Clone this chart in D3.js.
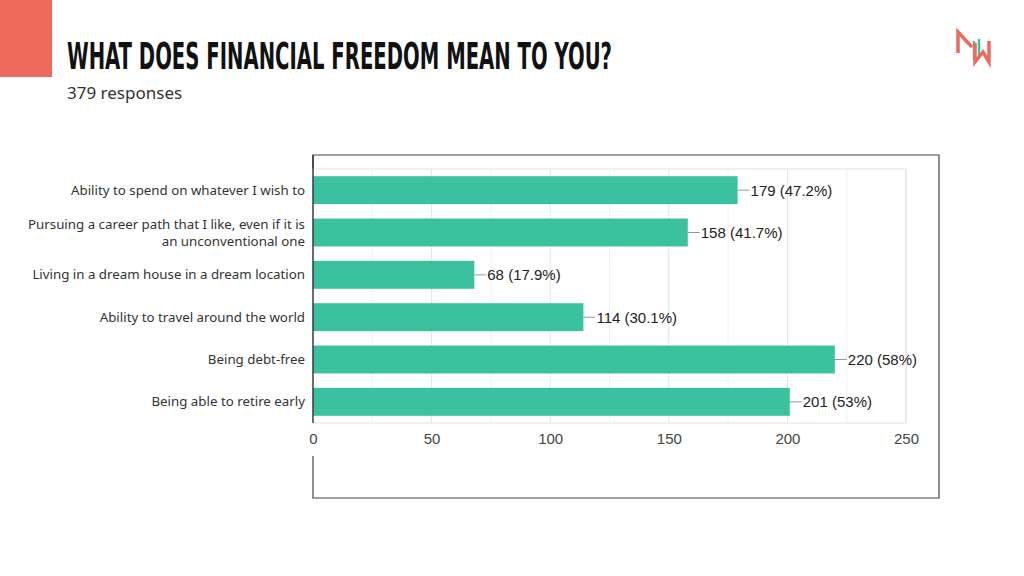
<!DOCTYPE html>
<html>
<head>
<meta charset="utf-8">
<script src="https://cdn.jsdelivr.net/npm/d3@7/dist/d3.min.js"></script>
<style>
  html, body { margin: 0; padding: 0; background: #fff; }
  svg { display: block; }
</style>
</head>
<body>
<svg id="chart" width="1024" height="576"></svg>
<script>
const title = "WHAT DOES FINANCIAL FREEDOM MEAN TO YOU?";
const subtitle = "379 responses";
const categories = [
  ["Ability to spend on whatever I wish to"],
  ["Pursuing a career path that I like, even if it is", "an unconventional one"],
  ["Living in a dream house in a dream location"],
  ["Ability to travel around the world"],
  ["Being debt-free"],
  ["Being able to retire early"]
];
const values = [179, 158, 68, 114, 220, 201];
const percents = ["47.2%", "41.7%", "17.9%", "30.1%", "58%", "53%"];
const tickValues = [0, 50, 100, 150, 200, 250];
const gridValues = [25, 50, 75, 100, 125, 150, 175, 200, 225, 250];

const svg = d3.select("#chart");
const salmon = "#EE6A5C";
const teal = "#3CC1A0";

// header block
svg.append("rect").attr("x", 0).attr("y", 0).attr("width", 52).attr("height", 77).attr("fill", salmon);
svg.append("text").attr("x", 67).attr("y", 69)
  .attr("font-family", "'Liberation Sans Narrow', 'DejaVu Sans Condensed', sans-serif")
  .attr("font-weight", "bold").attr("font-size", 38)
  .attr("textLength", 545).attr("lengthAdjust", "spacingAndGlyphs")
  .attr("fill", "#111").text(title);
svg.append("text").attr("x", 67).attr("y", 99)
  .attr("font-family", "'Noto Sans', sans-serif").attr("font-size", 17)
  .attr("fill", "#333").text(subtitle);

// logo
const logo = svg.append("g").attr("fill", "none").attr("stroke-linejoin", "miter");
logo.append("path").attr("d", "M958,53 L958,32 L972,47").attr("stroke", salmon).attr("stroke-width", 3.5);
logo.append("path").attr("d", "M974,41 L974,60 M979,39 L979,58").attr("stroke", teal).attr("stroke-width", 2.5);
logo.append("path").attr("d", "M975,43 L975,62 L983,52 L989,62 L989,41").attr("stroke", salmon).attr("stroke-width", 3.5);

// chart geometry
const x0 = 313, x1 = 906, yTop = 169, yBot = 423;
const x = d3.scaleLinear().domain([0, 250]).range([x0, x1]);
const y = d3.scaleBand().domain(d3.range(categories.length)).range([yTop, yBot]).paddingInner(0.34).paddingOuter(0.17);

// outer frame
svg.append("path")
  .attr("d", `M313,456 L313,498 L939,498 L939,155 L313,155 L313,169`)
  .attr("fill", "none").attr("stroke", "#444").attr("stroke-width", 1.2);

// plot area border + grid
svg.append("rect").attr("x", x0).attr("y", yTop).attr("width", x1 - x0).attr("height", yBot - yTop)
  .attr("fill", "none").attr("stroke", "#ebebeb").attr("stroke-width", 1.5);
svg.append("g").selectAll("line").data(gridValues).join("line")
  .attr("x1", d => x(d)).attr("x2", d => x(d))
  .attr("y1", yTop).attr("y2", yBot)
  .attr("stroke", d => d % 50 === 0 ? "#e4e4e4" : "#f0f0f0").attr("stroke-width", 1);

// bars
svg.append("g").selectAll("rect").data(values).join("rect")
  .attr("x", x(0)).attr("y", (d, i) => y(i))
  .attr("width", d => x(d) - x(0)).attr("height", y.bandwidth())
  .attr("fill", teal);

// value labels with leader lines
const lab = svg.append("g").selectAll("g").data(values).join("g");
lab.append("line")
  .attr("x1", d => x(d)).attr("x2", d => x(d) + 12)
  .attr("y1", (d, i) => y(i) + y.bandwidth() / 2).attr("y2", (d, i) => y(i) + y.bandwidth() / 2)
  .attr("stroke", "#999").attr("stroke-width", 1);
lab.append("text")
  .attr("x", d => x(d) + 13).attr("y", (d, i) => y(i) + y.bandwidth() / 2)
  .attr("dy", "0.36em")
  .attr("font-family", "'Liberation Sans', Arial, sans-serif").attr("font-size", 15)
  .attr("fill", "#222")
  .text((d, i) => `${d} (${percents[i]})`);

// category labels
const cat = svg.append("g").selectAll("text").data(categories).join("text")
  .attr("text-anchor", "end")
  .attr("font-family", "'Noto Sans', sans-serif").attr("font-size", 13.3)
  .attr("fill", "#333");
cat.each(function(lines, i) {
  const cy = y(i) + y.bandwidth() / 2;
  const lh = 17;
  const start = cy - (lines.length - 1) * lh / 2;
  d3.select(this).selectAll("tspan").data(lines).join("tspan")
    .attr("x", 305).attr("y", (d, j) => start + j * lh).attr("dy", "0.35em").text(d => d);
});

// x axis line (left edge of the plot)
svg.append("line").attr("x1", x0).attr("x2", x0).attr("y1", 155).attr("y2", yBot)
  .attr("stroke", "#333").attr("stroke-width", 1.4);

// x axis tick labels
const xAxis = d3.axisBottom(x).tickValues(tickValues).tickSize(0).tickPadding(0);
const ax = svg.append("g").attr("transform", `translate(0,${yBot + 10})`).call(xAxis);
ax.select(".domain").remove();
ax.selectAll("text")
  .attr("font-family", "'Liberation Sans', Arial, sans-serif").attr("font-size", 15)
  .attr("fill", "#444").attr("dy", "0.71em");
</script>
</body>
</html>
